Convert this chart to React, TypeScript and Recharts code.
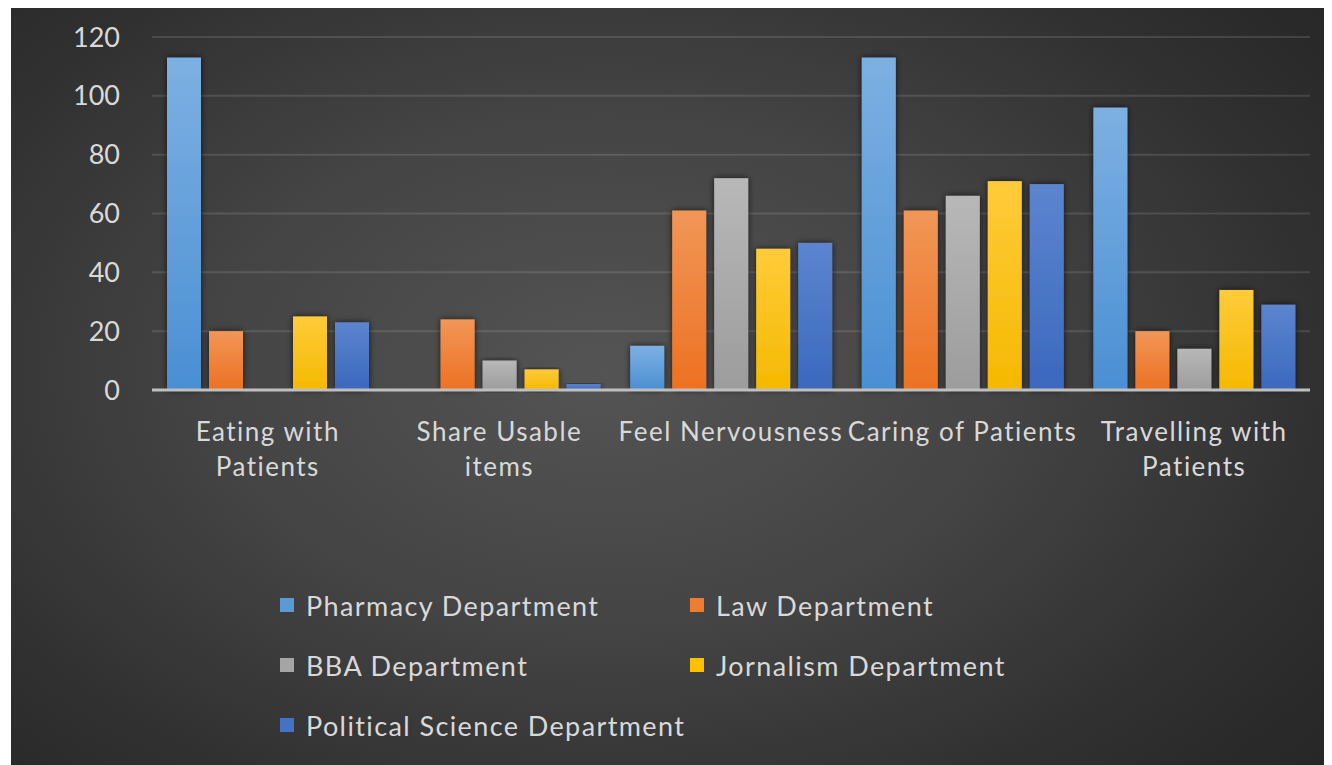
import React from 'react'
import { BarChart, Bar, XAxis, YAxis, CartesianGrid, Legend } from 'recharts'

const categories = [
  'Eating with\nPatients',
  'Share Usable\nitems',
  'Feel Nervousness',
  'Caring of Patients',
  'Travelling with\nPatients',
]

const pharmacy = [113, 0, 15, 113, 96]
const law = [20, 24, 61, 61, 20]
const bba = [0, 10, 72, 66, 14]
const jornalism = [25, 7, 48, 71, 34]
const politicalScience = [23, 2, 50, 70, 29]

const yTicks = [0, 20, 40, 60, 80, 100, 120]

const series = [
  { key: 'pharmacy', name: 'Pharmacy Department', values: pharmacy, color: '#5B9BD5', top: '#7DB0E2', bottom: '#4A8FD3' },
  { key: 'law', name: 'Law Department', values: law, color: '#ED7D31', top: '#F29657', bottom: '#EC7122' },
  { key: 'bba', name: 'BBA Department', values: bba, color: '#A5A5A5', top: '#B8B8B8', bottom: '#9C9C9C' },
  { key: 'jornalism', name: 'Jornalism Department', values: jornalism, color: '#FFC000', top: '#FFCB3A', bottom: '#F5B900' },
  { key: 'politicalScience', name: 'Political Science Department', values: politicalScience, color: '#4472C4', top: '#5C85CF', bottom: '#3B68BE' },
]

const chartData = categories.map((name, i) => {
  const row: Record<string, string | number> = { name }
  series.forEach(s => { row[s.key] = s.values[i] })
  return row
})

const FONT = "Lato, 'Open Sans', sans-serif"
const TEXT = '#d9d9d9'

const CategoryTick = ({ x, y, payload }: any) => {
  const lines = String(payload.value).split('\n')
  return (
    <text x={x} y={y + 43} textAnchor="middle" fill={TEXT} fontSize={26} fontFamily={FONT} letterSpacing={1.5}>
      {lines.map((line, i) => (
        <tspan key={i} x={x} dy={i === 0 ? 0 : 35}>{line}</tspan>
      ))}
    </text>
  )
}

const ShadowBar = (props: any) => {
  const { x, y, width, height, fill } = props
  if (!height || height <= 0) return null
  return <rect x={x} y={y} width={width} height={height} fill={fill} filter="url(#barShadow)" />
}

// legend entries keep the series order, two per row
const LegendGrid = ({ payload }: any) => {
  const entries = [...(payload || [])].sort(
    (a: any, b: any) =>
      series.findIndex(s => s.key === a.dataKey) - series.findIndex(s => s.key === b.dataKey)
  )
  return (
    <div style={{ display: 'grid', gridTemplateColumns: '410px 410px', rowGap: 0 }}>
      {entries.map((entry: any) => {
        const s = series.find(item => item.key === entry.dataKey)
        return (
          <div key={entry.value} style={{ display: 'flex', alignItems: 'center', height: 60 }}>
            <span style={{ width: 14, height: 14, background: s ? s.color : entry.color, marginRight: 12, flexShrink: 0 }} />
            <span style={{ color: TEXT, fontSize: 27, fontFamily: FONT, letterSpacing: 1.4, whiteSpace: 'nowrap' }}>{entry.value}</span>
          </div>
        )
      })}
    </div>
  )
}

export default function App() {
  return (
    <div
      style={{
        marginLeft: 3,
        width: 1321,
        height: 757,
        background: 'radial-gradient(ellipse 75% 85% at 45% 48%, #545454 0%, #444 40%, #2f2f2f 75%, #242424 100%)',
      }}
    >
      <BarChart
        width={1321}
        height={757}
        data={chartData}
        margin={{ top: 29, right: 22, left: 0, bottom: 0 }}
        barCategoryGap={15}
        barGap={8}
      >
        <defs>
          {series.map(s => (
            <linearGradient key={s.key} id={`grad-${s.key}`} x1="0" y1="0" x2="0" y2="1">
              <stop offset="0%" stopColor={s.top} />
              <stop offset="100%" stopColor={s.bottom} />
            </linearGradient>
          ))}
          <filter id="barShadow" x="-30%" y="-10%" width="160%" height="120%">
            <feDropShadow dx="0" dy="0" stdDeviation="3" floodColor="#000" floodOpacity="0.7" />
          </filter>
        </defs>
        <CartesianGrid vertical={false} stroke="rgba(255,255,255,0.12)" strokeWidth={2} />
        <XAxis
          dataKey="name"
          height={375}
          interval={0}
          tickLine={false}
          axisLine={{ stroke: '#bfbfbf', strokeWidth: 3 }}
          tick={<CategoryTick />}
        />
        <YAxis
          width={141}
          domain={[0, 120]}
          ticks={yTicks}
          axisLine={false}
          tickLine={false}
          tickSize={0}
          tickMargin={32}
          tick={{ fill: TEXT, fontSize: 27, fontFamily: FONT }}
        />
        <Legend
          layout="horizontal"
          verticalAlign="middle"
          align="center"
          content={<LegendGrid />}
          wrapperStyle={{ left: 269, top: 567, width: 820, height: 180 }}
        />
        {series.map(s => (
          <Bar
            key={s.key}
            dataKey={s.key}
            name={s.name}
            fill={`url(#grad-${s.key})`}
            shape={<ShadowBar />}
            isAnimationActive={false}
          />
        ))}
      </BarChart>
    </div>
  )
}
